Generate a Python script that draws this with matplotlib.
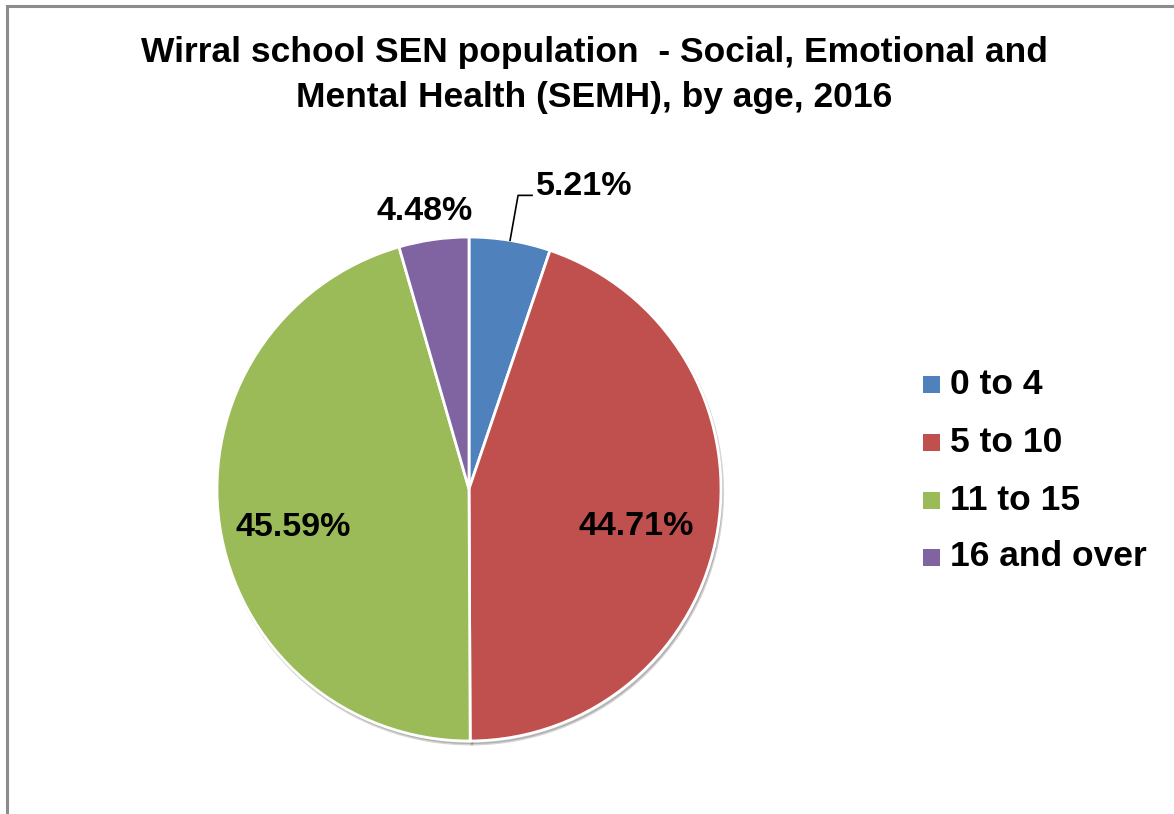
import matplotlib
matplotlib.use("Agg")
import matplotlib.pyplot as plt
import numpy as np
from matplotlib.patches import Rectangle

categories = ["0 to 4", "5 to 10", "11 to 15", "16 and over"]
values = [5.21, 44.71, 45.59, 4.48]
label_texts = ["5.21%", "44.71%", "45.59%", "4.48%"]
colors = ["#4F81BD", "#C0504D", "#9BBB59", "#8064A2"]
title = "Wirral school SEN population  - Social, Emotional and\nMental Health (SEMH), by age, 2016"

W, H = 1174, 814
plt.rcParams['font.family'] = ['Liberation Sans', 'DejaVu Sans']
fig = plt.figure(figsize=(W / 100, H / 100), dpi=100)
ax = fig.add_axes([0, 0, 1, 1])
ax.set_xlim(0, W)
ax.set_ylim(0, H)
ax.axis('off')

# chart frame
ax.add_patch(Rectangle((7, -20), W + 20, H - 6 + 20, fill=False,
                       edgecolor="#8c8c8c", linewidth=2.2, zorder=0))

cx, cy, r = 469, H - 489, 252
wedges, _ = ax.pie(values, colors=colors, startangle=90, counterclock=False,
                   center=(cx, cy), radius=r, frame=True,
                   wedgeprops=dict(edgecolor="white", linewidth=2),
                   shadow=dict(ox=1.2, oy=-2.2, shade=0.9, alpha=0.18))
ax.set_xlim(0, W)
ax.set_ylim(0, H)
ax.set_aspect('equal')
ax.axis('off')

# label placement: (distance factor, angle offset in degrees)
placement = [(1.285, -11.4), (0.68, -3.5), (0.715, 4.0), (1.115, 1.0)]
for w, txt, (d, off) in zip(wedges, label_texts, placement):
    mid = np.deg2rad((w.theta1 + w.theta2) / 2 + off)
    x = cx + d * r * np.cos(mid)
    y = cy + d * r * np.sin(mid)
    ax.text(x, y, txt, ha='center', va='center', fontsize=24.5,
            fontweight='bold', color='black')

# leader line for the first (small) slice
w0 = wedges[0]
m0 = np.deg2rad((w0.theta1 + w0.theta2) / 2)
p0 = (cx + r * np.cos(m0), cy + r * np.sin(m0))
ax.plot([p0[0], p0[0] + 8, p0[0] + 22], [p0[1], p0[1] + 45, p0[1] + 45],
        color='black', linewidth=1.2)

ax.text(594, H - 75, title, ha='center', va='center', fontsize=25.5,
        fontweight='bold', linespacing=1.48)

# legend
leg_y = [384, 442, 500, 557]
for lab, col, ly in zip(categories, colors, leg_y):
    ax.add_patch(Rectangle((923, H - ly - 8.5), 17, 17, facecolor=col,
                           edgecolor='none'))
    ax.text(950, H - ly, lab, ha='left', va='center', fontsize=25.5,
            fontweight='bold')

fig.savefig("out.png", dpi=100, facecolor='white')
